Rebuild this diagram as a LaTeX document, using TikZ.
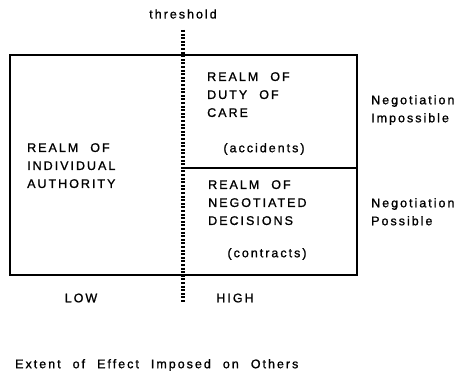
\documentclass[tikz,border=0pt]{standalone}
\usepackage{fontspec}
\setmainfont{Liberation Sans}[LetterSpace=16,WordSpace=2.2,FakeBold=1.2]
\begin{document}
\begin{tikzpicture}[x=1pt,y=-1pt,
  every node/.style={inner sep=0pt,font=\fontsize{12.5}{18}\selectfont},
  lbl/.style={align=left,anchor=north west},
  realm/.style={line width=2.4pt},
  thresh/.style={line width=4pt,dash pattern=on 2pt off 1.6pt}]
\useasboundingbox (0,0) rectangle (460,371);
% field of authority
\coordinate (tl) at (10,55);
\coordinate (br) at (357,275);
\coordinate (tt) at (183,30);
\coordinate (tb) at (183,303);
\coordinate (ml) at (183,168);
\coordinate (mr) at (357,168);
\draw[realm] (tl) rectangle (br);
\draw[realm] (ml) -- (mr);
\draw[thresh] (tt) -- (tb);
\node (th) at (183,14) {threshold};
% realm labels
\node[lbl] (ia) at (27,143) {REALM OF\\INDIVIDUAL\\AUTHORITY};
\node[lbl] (dc) at (207,72) {REALM OF\\DUTY OF\\CARE};
\node (acc) at (264,149) {(accidents)};
\node[lbl] (nd) at (208,180) {REALM OF\\NEGOTIATED\\DECISIONS};
\node (con) at (267,254) {(contracts)};
\node[lbl] (ni) at (371,95) {Negotiation\\Impossible};
\node[lbl] (np) at (371,198) {Negotiation\\Possible};
\node (low) at (81,298) {LOW};
\node (high) at (235,298) {HIGH};
\node[anchor=west] (ext) at (15,365) {Extent of Effect Imposed on Others};
\end{tikzpicture}
\end{document}
